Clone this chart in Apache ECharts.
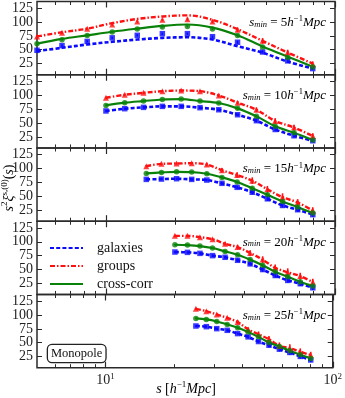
<!DOCTYPE html>
<html><head><meta charset="utf-8">
<script src="https://cdn.jsdelivr.net/npm/echarts@6/dist/echarts.min.js"></script>
<style>html,body{margin:0;padding:0;background:#fff}#c{width:345px;height:398px}</style>
</head><body><div id="c"></div>
<script>
// ---- data ----
const xs1 = [5.0, 6.43, 8.28, 10.65, 13.7, 17.63, 22.68, 29.18, 37.54, 48.3, 62.14, 79.95];
const xs2 = [10, 12.08, 14.59, 17.63, 21.3, 25.74, 31.09, 37.56, 45.38, 54.82, 66.23, 80];
const xs3 = [15, 17.47, 20.34, 23.68, 27.57, 32.1, 37.38, 43.52, 50.68, 59.01, 68.71, 80];
const xs4 = [20, 22.69, 25.73, 29.19, 33.11, 37.56, 42.6, 48.33, 54.82, 62.18, 70.53, 80];
const xs5 = [25, 27.79, 30.89, 34.33, 38.16, 42.42, 47.15, 52.41, 58.25, 64.75, 71.97, 80];

const gal1 = [49, 57.5, 65, 71.5, 76, 79, 79, 73.5, 63.5, 46, 30, 16];
const grp1 = [74, 80.5, 88, 95.5, 101, 104, 105, 101, 86, 66, 45, 24];
const cc1  = [61, 68, 75.5, 82, 87.5, 91, 92, 87.5, 75.5, 55, 36, 19];
const galLine1 = [47.5, 53.5, 59.5, 64.3, 68.4, 71.4, 72.5, 68.4, 56.4, 44.6, 28.6, 16];
const grpLine1 = [74, 81.5, 88, 98, 105.5, 110, 112, 104, 87, 66, 45, 25];
const ccLine1  = [61, 69.5, 76, 82.5, 88, 93, 95.5, 90, 76, 56, 37.5, 19.5];

const gal2 = [71.7, 75.8, 78.2, 80, 80, 77.6, 73.9, 64.9, 54.2, 38.3, 27, 18];
const grp2 = [95.5, 100.8, 104.4, 107.4, 108.5, 107.4, 99.6, 86.6, 73.9, 53.6, 41.9, 26.5];
const cc2  = [81.7, 86.6, 89.6, 92.4, 93.1, 89.6, 86, 76.4, 62, 44.2, 32.4, 19.2];

const gal3 = [80.4, 81, 81.6, 80.4, 79.2, 73.3, 66.1, 57.2, 45.4, 33.4, 25.7, 16.8];
const grp3 = [104.3, 108.4, 109, 109.6, 107.2, 97, 88.2, 78.1, 62.6, 48.3, 38.8, 24];
const cc3  = [91.1, 92.9, 94.1, 93.6, 90.6, 84, 75.7, 64.3, 52.5, 40.6, 30.4, 19.7];

const gal4 = [81.5, 80.9, 79.1, 75, 72, 66.6, 60.1, 49.9, 39.2, 30.3, 24.4, 17];
const grp4 = [110.7, 110.7, 108.3, 104.7, 96.4, 90.4, 79.8, 67.8, 53, 45.1, 38.1, 27.3];
const cc4  = [94.6, 94, 92.3, 88.7, 82.6, 76.7, 67.8, 57.6, 45.8, 37, 28, 20.1];

const gal5 = [80.2, 79, 75.4, 72.4, 66.5, 60.6, 52.2, 45.6, 38.4, 32.5, 25.4, 19];
const grp5 = [111.1, 107, 101, 95, 87.4, 74.1, 65.2, 56.3, 44.5, 40.2, 33.8, 27.7];
const cc5  = [93.8, 92, 88.4, 83.1, 77.2, 69.5, 60.6, 50.4, 43.2, 35.6, 28.4, 21.8];

const galErrA = [2, 2, 2, 2, 2, 2, 2, 2, 3, 3, 3, 3];
const grpErrA = [2, 2, 2, 2, 2, 2, 3, 3, 4, 5, 5, 5];
const ccErrA  = [1.5, 1.5, 1.5, 1.5, 1.5, 1.5, 1.5, 2, 2, 2, 2.5, 2.5];
const galErrB = [2, 2, 2, 2, 2, 3, 3, 4, 4, 4, 4, 4];
const grpErrB = [2, 2, 2, 2, 3, 4, 5, 6, 6, 7, 6, 6];
const ccErrB  = [1.5, 1.5, 1.5, 1.5, 2, 2, 2, 3, 3, 3, 3, 3];

const sminValues = ['5', '10', '15', '20', '25'];
const yTicks = [25, 50, 75, 100, 125];
const xMajor = [10, 100];
const xMinor = [6, 7, 8, 9, 20, 30, 40, 50, 60, 70, 80, 90];
const legendNames = ['galaxies', 'groups', 'cross-corr'];

// ---- build ----
const panels = [
  {xs: xs1, g: gal1, r: grp1, c: cc1, gl: galLine1, rl: grpLine1, cl: ccLine1, ge: galErrA, re: grpErrA, ce: ccErrA},
  {xs: xs2, g: gal2, r: grp2, c: cc2, gl: gal2, rl: grp2, cl: cc2, ge: galErrA, re: grpErrA, ce: ccErrA},
  {xs: xs3, g: gal3, r: grp3, c: cc3, gl: gal3, rl: grp3, cl: cc3, ge: galErrB, re: grpErrB, ce: ccErrB},
  {xs: xs4, g: gal4, r: grp4, c: cc4, gl: gal4, rl: grp4, cl: cc4, ge: galErrB, re: grpErrB, ce: ccErrB},
  {xs: xs5, g: gal5, r: grp5, c: cc5, gl: gal5, rl: grp5, cl: cc5, ge: galErrB, re: grpErrB, ce: ccErrB}
];

const FONT = '"Liberation Serif", "DejaVu Serif", serif';
const BLUE = '#0a0aff', RED = '#ff1010', GREEN = '#0a820a', INK = '#222';
const TOPS = [1.5, 74.75, 148, 221.25, 294.5];
const H = 73.2;

const grid = [], xAxis = [], yAxis = [], series = [], graphic = [];

function zip(xs, ys) { return xs.map((x, i) => [x, ys[i]]); }
function zip3(xs, ys, es) { return xs.map((x, i) => [x, ys[i], es[i]]); }
function errRender(color) {
  return function (params, api) {
    const x = api.value(0), y = api.value(1), e = api.value(2);
    const p1 = api.coord([x, y - e]), p2 = api.coord([x, y + e]);
    return {type: 'line', shape: {x1: p1[0], y1: p1[1], x2: p2[0], y2: p2[1]},
            style: {stroke: color, lineWidth: 1.6}};
  };
}

const supRich = {
  i: {fontFamily: FONT, fontStyle: 'italic', fontSize: 14, color: INK},
  n: {fontFamily: FONT, fontSize: 14, color: INK},
  sup: {fontFamily: FONT, fontSize: 9, color: INK, padding: [0, 0, 8, 0]},
  sub: {fontFamily: FONT, fontStyle: 'italic', fontSize: 9, color: INK, padding: [5, 0, 0, 0]}
};

panels.forEach((p, i) => {
  grid.push({left: 37, right: 10, top: TOPS[i], height: H, show: true,
             borderColor: '#2a2a2a', borderWidth: 1.5, backgroundColor: 'transparent'});
  const base = {gridIndex: i, type: 'log', logBase: 10, min: 5, max: 100,
                axisLine: {show: false}, splitLine: {show: false}};
  const isLast = i === panels.length - 1;
  xAxis.push(Object.assign({}, base, {position: 'bottom',
    axisTick: {inside: true, length: 6, customValues: xMajor, lineStyle: {color: '#2a2a2a', width: 1.2}},
    axisLabel: isLast ? {customValues: xMajor, margin: 4, fontFamily: FONT, fontSize: 14, color: INK,
       formatter: v => (Math.abs(v - 10) < 1e-6 ? '10{sup|1}' : '10{sup|2}'),
       rich: {sup: {fontFamily: FONT, fontSize: 9, color: INK, padding: [0, 0, 8, 0]}}} : {show: false}}));
  xAxis.push(Object.assign({}, base, {position: 'bottom',
    axisTick: {inside: true, length: 3.5, customValues: xMinor, lineStyle: {color: '#2a2a2a', width: 1}},
    axisLabel: {show: false}}));
  xAxis.push(Object.assign({}, base, {position: 'top',
    axisTick: {inside: true, length: 6, customValues: xMajor, lineStyle: {color: '#2a2a2a', width: 1.2}},
    axisLabel: {show: false}}));
  xAxis.push(Object.assign({}, base, {position: 'top',
    axisTick: {inside: true, length: 3.5, customValues: xMinor, lineStyle: {color: '#2a2a2a', width: 1}},
    axisLabel: {show: false}}));

  yAxis.push({gridIndex: i, type: 'value', min: 5, max: 137, position: 'left',
    axisLine: {show: false}, splitLine: {show: false},
    axisTick: {inside: true, length: 5, customValues: yTicks, lineStyle: {color: '#2a2a2a'}},
    axisLabel: {customValues: yTicks, margin: 4, fontFamily: FONT, fontSize: 14, color: INK}});
  yAxis.push({gridIndex: i, type: 'value', min: 5, max: 137, position: 'right',
    axisLine: {show: false}, splitLine: {show: false},
    axisTick: {inside: true, length: 5, customValues: yTicks, lineStyle: {color: '#2a2a2a'}},
    axisLabel: {show: false}});

  const xi = i * 4, yi = i * 2;
  const common = {xAxisIndex: xi, yAxisIndex: yi, animation: false};
  // model lines
  series.push(Object.assign({}, common, {type: 'line', name: legendNames[0], data: zip(p.xs, p.gl),
    smooth: 0.35, symbol: 'none', z: 2, lineStyle: {color: BLUE, width: 2.6, type: [4, 2.2]}, itemStyle: {color: BLUE}}));
  series.push(Object.assign({}, common, {type: 'line', name: legendNames[1], data: zip(p.xs, p.rl),
    smooth: 0.35, symbol: 'none', z: 2, lineStyle: {color: RED, width: 2.4, type: [5, 2, 1.5, 2]}, itemStyle: {color: RED}}));
  series.push(Object.assign({}, common, {type: 'line', name: legendNames[2], data: zip(p.xs, p.cl),
    smooth: 0.35, symbol: 'none', z: 2, lineStyle: {color: GREEN, width: 2.2}, itemStyle: {color: GREEN}}));
  // error bars
  series.push(Object.assign({}, common, {type: 'custom', name: 'gal err', data: zip3(p.xs, p.g, p.ge),
    renderItem: errRender(BLUE), encode: {x: 0, y: 1}, z: 3}));
  series.push(Object.assign({}, common, {type: 'custom', name: 'grp err', data: zip3(p.xs, p.r, p.re),
    renderItem: errRender(RED), encode: {x: 0, y: 1}, z: 3}));
  series.push(Object.assign({}, common, {type: 'custom', name: 'cc err', data: zip3(p.xs, p.c, p.ce),
    renderItem: errRender(GREEN), encode: {x: 0, y: 1}, z: 3}));
  // markers
  series.push(Object.assign({}, common, {type: 'scatter', name: 'gal pts', data: zip(p.xs, p.g),
    symbol: 'rect', symbolSize: 5.5, z: 4, itemStyle: {color: BLUE}}));
  series.push(Object.assign({}, common, {type: 'scatter', name: 'grp pts', data: zip(p.xs, p.r),
    symbol: 'triangle', symbolSize: 6, z: 4, itemStyle: {color: RED}}));
  series.push(Object.assign({}, common, {type: 'scatter', name: 'cc pts', data: zip(p.xs, p.c),
    symbol: 'circle', symbolSize: 5.5, z: 4, itemStyle: {color: GREEN}}));

  graphic.push({type: 'text', x: 326, y: TOPS[i] + 21, z: 10,
    style: {text: '{i|s}{sub|min}{n| = ' + sminValues[i] + '}{i|h}{sup|−1}{i|Mpc}',
            rich: {
              i: {fontFamily: FONT, fontStyle: 'italic', fontSize: 13, color: '#444'},
              n: {fontFamily: FONT, fontSize: 13, color: '#444'},
              sup: {fontFamily: FONT, fontSize: 8.5, color: '#444', padding: [0, 0, 7, 0]},
              sub: {fontFamily: FONT, fontStyle: 'italic', fontSize: 8.5, color: '#444', padding: [4, 0, 0, 0]}
            },
            align: 'right', verticalAlign: 'middle'}});
});

// y-axis title
graphic.push({type: 'text', x: 9, y: 188, rotation: Math.PI / 2, z: 10,
  style: {text: '{i|s}{sup|2}{i|ξ}{sup|s,(0)}{n|(}{i|s}{n|)}', rich: supRich,
          align: 'center', verticalAlign: 'middle'}});
// x-axis title
graphic.push({type: 'text', x: 186, y: 389, z: 10,
  style: {text: '{i|s}{n| [}{i|h}{sup|−1}{i|Mpc}{n|]}', rich: supRich,
          align: 'center', verticalAlign: 'middle'}});
// Monopole box
graphic.push({type: 'text', x: 48, y: 345, z: 10,
  style: {text: 'Monopole', font: '12.5px "Liberation Serif", serif', fill: '#111',
          backgroundColor: '#fff', borderColor: '#222', borderWidth: 1.3, borderRadius: 4, padding: [2, 3]}});

const option = {
  animation: false,
  backgroundColor: '#fff',
  grid, xAxis, yAxis, series, graphic,
  legend: {data: legendNames, orient: 'vertical', left: 44, top: 236, itemWidth: 33, itemHeight: 12,
    itemGap: 4, selectedMode: false, itemStyle: {opacity: 0},
    textStyle: {fontFamily: FONT, fontSize: 14, color: '#111', padding: [0, 0, 0, 9], lineHeight: 13}}
};
const chart = echarts.init(document.getElementById('c'));
chart.setOption(option);
</script>
</body></html>
